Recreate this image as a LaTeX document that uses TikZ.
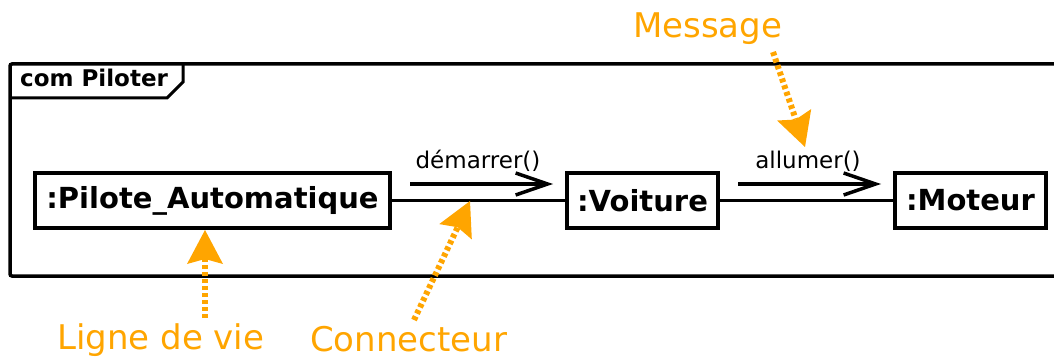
\documentclass[tikz,border=0pt]{standalone}
\usepackage{fontspec}
\setmainfont{DejaVu Sans}
\usetikzlibrary{arrows.meta}
\definecolor{annot}{HTML}{FFA500}
\tikzset{
  lifeline/.style={draw, line width=3.5pt, minimum height=55pt, inner sep=0pt,
    font=\fontsize{29}{34}\selectfont\bfseries},
  conn/.style={line width=3.5pt},
  msgarrow/.style={line width=3.5pt, -{Straight Barb[length=32pt,width=22pt,line width=3.5pt]}},
  msglabel/.style={inner sep=0pt, font=\fontsize{23}{27}\selectfont},
  annotext/.style={inner sep=0pt, anchor=base west, text=annot, font=\fontsize{34}{40}\selectfont},
  annoarrow/.style={draw=annot, line width=6pt, dash pattern=on 4pt off 3pt,
    -{Stealth[length=34pt,width=36pt,inset=5pt,fill=annot,line width=0pt,sep=0pt]}},
  framebox/.style={line width=3.5pt, rounded corners=2pt}
}
\begin{document}
\begin{tikzpicture}[x=1pt,y=-1pt]
\useasboundingbox (0,0) rectangle (1054,358);
% frame
\draw[framebox] (1070,64) -- (10,64) -- (10,276) -- (1070,276);
\draw[line width=3pt] (10,98) -- (167,98) -- (183,82) -- (183,64);
\node[inner sep=0pt, anchor=base west, font=\fontsize{23}{27}\selectfont\bfseries] (frm) at (20,87) {com Piloter};
% lifelines
\node[lifeline, minimum width=355pt] (pil) at (212.5,200.5) {:Pilote\_Automatique};
\node[lifeline, minimum width=151pt] (voi) at (642.5,200.5) {:Voiture};
\node[lifeline, minimum width=151pt] (mot) at (970.5,200.5) {:Moteur};
% connectors
\draw[conn] (pil.east) -- (voi.west);
\draw[conn] (voi.east) -- (mot.west);
% messages
\coordinate (m1a) at (410,184);
\coordinate (m1b) at (553,184);
\coordinate (m2a) at (738,184);
\coordinate (m2b) at (881,184);
\draw[msgarrow] (m1a) -- (m1b);
\draw[msgarrow] (m2a) -- (m2b);
\node[msglabel] (l1) at (478,161) {démarrer()};
\node[msglabel] (l2) at (808,161) {allumer()};
% annotations
\node[annotext] (tmsg) at (633,38) {Message};
\node[annotext] (tlig) at (57,349) {Ligne de vie};
\node[annotext] (tcon) at (310,351) {Connecteur};
\coordinate (amsgs) at (773,52);
\coordinate (amsge) at (805,147);
\coordinate (aligs) at (205,318);
\coordinate (alige) at (205,230);
\coordinate (acons) at (414,320);
\coordinate (acone) at (470,201);
\draw[annoarrow] (amsgs) -- (amsge);
\draw[annoarrow] (aligs) -- (alige);
\draw[annoarrow] (acons) -- (acone);
\end{tikzpicture}
\end{document}
